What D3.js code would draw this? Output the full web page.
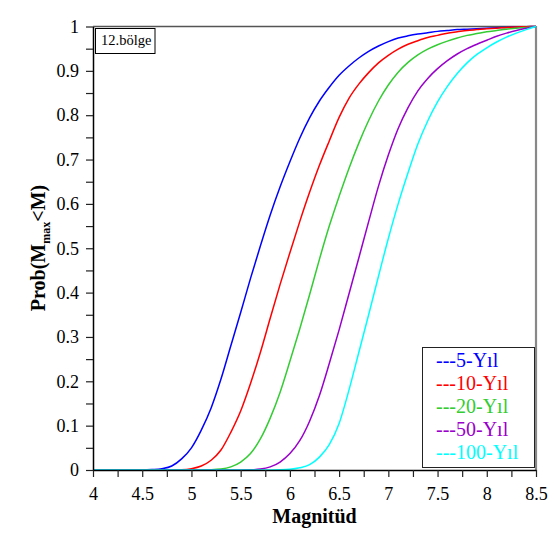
<!DOCTYPE html>
<html>
<head>
<meta charset="utf-8">
<script src="https://cdn.jsdelivr.net/npm/d3@7"></script>
<style>
  html, body { margin: 0; padding: 0; background: #fff; }
  svg { display: block; }
  text { font-family: "Liberation Serif", "Times New Roman", serif; }
</style>
</head>
<body>
<svg id="chart" width="555" height="534"></svg>
<script>
// Magnitude grid (x values)
const magnitudes = [4.0,4.1,4.2,4.3,4.4,4.5,4.6,4.7,4.8,4.9,5.0,5.1,5.2,5.3,5.4,5.5,5.6,5.7,5.8,5.9,
  6.0,6.1,6.2,6.3,6.4,6.5,6.6,6.7,6.8,6.9,7.0,7.1,7.2,7.3,7.4,7.5,7.6,7.7,7.8,7.9,8.0,8.1,8.2,8.3,8.4,8.5];

// Probability that the largest magnitude stays below M, per exposure period
const prob5 = [0,0,0,0,0,0.0001,0.001,0.003,0.009,0.025,0.05,0.09,0.14,0.205,0.28,0.355,0.432,0.505,0.575,0.638,
  0.695,0.748,0.794,0.832,0.863,0.89,0.911,0.929,0.944,0.956,0.966,0.974,0.979,0.983,0.986,0.989,0.991,0.993,0.994,0.995,
  0.996,0.997,0.998,0.999,0.9995,1];
const prob10 = [0,0,0,0,0,0,0,0,0.0001,0.0006,0.003,0.009,0.022,0.045,0.085,0.133,0.195,0.265,0.342,0.418,
  0.49,0.56,0.626,0.687,0.742,0.795,0.838,0.87,0.896,0.918,0.935,0.949,0.96,0.968,0.975,0.98,0.985,0.988,0.991,0.993,
  0.995,0.996,0.998,0.999,0.9995,1];
const prob20 = [0,0,0,0,0,0,0,0,0,0,0,0.0001,0.0005,0.002,0.007,0.018,0.037,0.07,0.117,0.175,
  0.245,0.318,0.395,0.475,0.55,0.617,0.68,0.737,0.788,0.832,0.868,0.897,0.919,0.936,0.949,0.959,0.967,0.974,0.98,0.984,
  0.988,0.991,0.994,0.996,0.998,1];
const prob50 = [0,0,0,0,0,0,0,0,0,0,0,0,0,0,0,0.0001,0.0005,0.002,0.007,0.018,
  0.037,0.066,0.11,0.168,0.24,0.316,0.397,0.478,0.56,0.64,0.71,0.77,0.817,0.855,0.883,0.905,0.923,0.938,0.95,0.96,
  0.969,0.978,0.985,0.991,0.996,1];
const prob100 = [0,0,0,0,0,0,0,0,0,0,0,0,0,0,0,0,0,0,0.0001,0.0004,
  0.0015,0.005,0.012,0.029,0.057,0.105,0.18,0.265,0.35,0.437,0.522,0.6,0.67,0.735,0.787,0.83,0.865,0.894,0.918,0.937,
  0.952,0.965,0.976,0.985,0.993,1];

const seriesNames = ["---5-Yıl", "---10-Yıl", "---20-Yıl", "---50-Yıl", "---100-Yıl"];
const seriesColors = ["#0000ff", "#ff0000", "#33cc33", "#9900cc", "#00ffff"];
const seriesValues = [prob5, prob10, prob20, prob50, prob100];

// Axis ticks
const xTickValues = [4, 4.5, 5, 5.5, 6, 6.5, 7, 7.5, 8, 8.5];
const xTickLabels = ["4", "4.5", "5", "5.5", "6", "6.5", "7", "7.5", "8", "8.5"];
const xMinorTicks = [4.25, 4.75, 5.25, 5.75, 6.25, 6.75, 7.25, 7.75, 8.25];
const yTickValues = [0, 0.1, 0.2, 0.3, 0.4, 0.5, 0.6, 0.7, 0.8, 0.9, 1];
const yTickLabels = ["0", "0.1", "0.2", "0.3", "0.4", "0.5", "0.6", "0.7", "0.8", "0.9", "1"];
const yMinorTicks = [0.05, 0.15, 0.25, 0.35, 0.45, 0.55, 0.65, 0.75, 0.85, 0.95];

const regionLabel = "12.bölge";

const svg = d3.select("#chart");
const plotLeft = 93, plotRight = 536, plotTop = 26.5, plotBottom = 470;

const x = d3.scaleLinear().domain([4, 8.5]).range([plotLeft, plotRight]);
const y = d3.scaleLinear().domain([0, 1]).range([plotBottom, plotTop]);

// Frame: top and right edges
svg.append("line").attr("x1", plotLeft).attr("x2", plotRight).attr("y1", plotTop).attr("y2", plotTop)
  .attr("stroke", "#555").attr("stroke-width", 1.5);
svg.append("line").attr("x1", plotRight).attr("x2", plotRight).attr("y1", plotTop - 0.5).attr("y2", plotBottom)
  .attr("stroke", "#888").attr("stroke-width", 2.2);

// Curves
const line = d3.line()
  .x((d, i) => x(magnitudes[i]))
  .y(d => y(d))
  .curve(d3.curveMonotoneX);

seriesValues.forEach((vals, k) => {
  svg.append("path")
    .datum(vals)
    .attr("fill", "none")
    .attr("stroke", seriesColors[k])
    .attr("stroke-width", 1.5)
    .attr("d", line);
});

// X axis
const xAxis = svg.append("g").attr("transform", `translate(0,${plotBottom})`);
xAxis.call(d3.axisBottom(x).tickValues(xTickValues.concat(xMinorTicks))
  .tickSize(7).tickSizeOuter(0)
  .tickFormat(d => { const i = xTickValues.indexOf(d); return i >= 0 ? xTickLabels[i] : ""; }));
xAxis.select(".domain").attr("stroke", "#000").attr("stroke-width", 1.5);
xAxis.selectAll(".tick line").attr("stroke", "#222").attr("stroke-width", 1.2);
xAxis.selectAll(".tick text").attr("font-family", "Liberation Serif, serif")
  .attr("font-size", 18).attr("fill", "#000").attr("dy", "0.71em").attr("y", 17);

// Y axis
const yAxis = svg.append("g").attr("transform", `translate(${plotLeft},0)`);
yAxis.call(d3.axisLeft(y).tickValues(yTickValues.concat(yMinorTicks))
  .tickSize(7).tickSizeOuter(0)
  .tickFormat(d => { const i = yTickValues.indexOf(d); return i >= 0 ? yTickLabels[i] : ""; }));
yAxis.select(".domain").attr("stroke", "#000").attr("stroke-width", 1.5);
yAxis.selectAll(".tick line").attr("stroke", "#222").attr("stroke-width", 1.2);
yAxis.selectAll(".tick text").attr("font-family", "Liberation Serif, serif")
  .attr("font-size", 18).attr("fill", "#000").attr("x", -14);

// Axis titles
svg.append("text")
  .attr("x", (plotLeft + plotRight) / 2).attr("y", 523)
  .attr("text-anchor", "middle")
  .attr("font-weight", "bold").attr("font-size", 20)
  .text("Magnitüd");

const yTitle = svg.append("text")
  .attr("transform", "translate(45,248) rotate(-90)")
  .attr("text-anchor", "middle")
  .attr("font-weight", "bold").attr("font-size", 20);
yTitle.append("tspan").text("Prob(M");
yTitle.append("tspan").attr("font-size", 12).attr("dy", 5).text("max");
yTitle.append("tspan").attr("dy", -5).text("<M)");

// Region label box
svg.append("rect").attr("x", 95.5).attr("y", 28.5).attr("width", 59.5).attr("height", 25)
  .attr("fill", "#fff").attr("stroke", "#000").attr("stroke-width", 1);
svg.append("text").attr("x", 101).attr("y", 44.5).attr("font-size", 14.5).text(regionLabel);

// Legend
const lg = svg.append("g");
lg.append("rect").attr("x", 422.5).attr("y", 347.5).attr("width", 112).attr("height", 120)
  .attr("fill", "#fff").attr("stroke", "#222").attr("stroke-width", 1);
seriesNames.forEach((name, k) => {
  lg.append("text")
    .attr("x", 436).attr("y", 366.5 + k * 23.1)
    .attr("font-size", 20)
    .attr("fill", seriesColors[k])
    .text(name);
});
</script>
</body>
</html>
